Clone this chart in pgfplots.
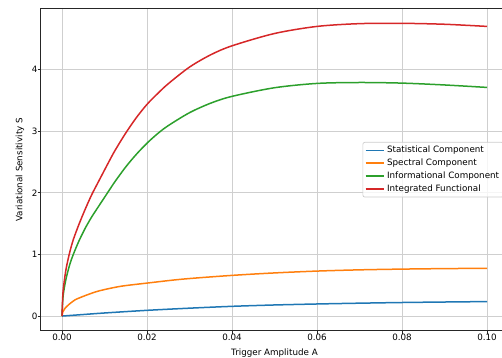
\documentclass[border=0pt]{standalone}
\usepackage{pgfplots}
\pgfplotsset{compat=1.18}
\usepackage{fontspec}
\setmainfont{DejaVu Sans}
\definecolor{cblue}{HTML}{1F77B4}
\definecolor{corange}{HTML}{FF7F0E}
\definecolor{cgreen}{HTML}{2CA02C}
\definecolor{cred}{HTML}{D62728}
\definecolor{gridc}{HTML}{CFCFCF}
\definecolor{legc}{HTML}{CCCCCC}
\newcommand{\fs}{\fontsize{8.75bp}{10.5bp}\selectfont}
\begin{document}
\begin{tikzpicture}
\useasboundingbox (0,0) rectangle (502bp,358bp);
\begin{axis}[
  at={(40.75bp,27.3bp)}, anchor=south west,
  scale only axis, width=467.5bp, height=322bp,
  xmin=-0.005, xmax=0.105, ymin=-0.2375, ymax=4.9875,
  scaled x ticks=false, scaled y ticks=false,
  xtick={0,0.02,0.04,0.06,0.08,0.1},
  xticklabels={0.00,0.02,0.04,0.06,0.08,0.10},
  ytick={0,1,2,3,4},
  yticklabels={0,1,2,3,4},
  tick align=outside, tick pos=left,
  major tick length=3.06bp,
  tick style={black!85, line width=0.7bp},
  axis line style={black!85, line width=0.7bp},
  grid=major,
  major grid style={gridc, line width=0.9bp},
  xticklabel style={font=\fs, inner sep=0pt, anchor=north},
  yticklabel style={font=\fs, inner sep=0pt, anchor=east},
  xlabel={Trigger Amplitude A},
  ylabel={Variational Sensitivity S},
  every axis x label/.style={at={(axis description cs:0.5,-0.0683)}, anchor=center, font=\fs},
  every axis y label/.style={at={(axis description cs:-0.0444,0.5)}, rotate=90, anchor=center, font=\fs},
  legend cell align=left,
  legend style={at={(1,0.5)}, xshift=-4.4bp, anchor=east, draw=legc, line width=0.7bp,
    rounded corners=2bp, fill=white, fill opacity=0.8, text opacity=1, draw opacity=1,
    font=\fs, inner xsep=2bp, inner ysep=1.5bp, nodes={inner xsep=2.4bp, inner ysep=2.4bp},
    /tikz/every even column/.append style={column sep=2bp}},
  legend image code/.code={\draw[#1, line width=1.5bp, draw opacity=1] (0bp,0bp) -- (18.3bp,0bp);},
]
\addplot[cblue, line width=1.5bp, smooth] table {
0 0
0.005 0.025
0.01 0.05
0.02 0.093
0.03 0.128
0.04 0.158
0.05 0.18
0.06 0.196
0.07 0.209
0.08 0.22
0.09 0.228
0.1 0.235
};
\addlegendentry{Statistical Component}
\addplot[corange, line width=1.5bp, smooth] table {
0 0
0.0002 0.067
0.0007 0.125
0.0015 0.18
0.003 0.26
0.005 0.32
0.0078 0.39
0.01 0.43
0.014 0.485
0.02 0.535
0.0285 0.60
0.04 0.66
0.05 0.70
0.06 0.73
0.07 0.75
0.08 0.762
0.09 0.77
0.1 0.775
};
\addlegendentry{Spectral Component}
\addplot[cgreen, line width=1.5bp, smooth] table {
0 0
0.0002 0.28
0.0005 0.44
0.001 0.62
0.0018 0.83
0.00266 1.0
0.004 1.22
0.0055 1.43
0.007 1.61
0.0088 1.80
0.011 2.03
0.0125 2.185
0.015 2.42
0.0175 2.625
0.02 2.805
0.0225 2.96
0.025 3.09
0.03 3.30
0.035 3.455
0.04 3.565
0.05 3.705
0.06 3.775
0.07 3.79
0.08 3.78
0.09 3.75
0.1 3.71
};
\addlegendentry{Informational Component}
\addplot[cred, line width=1.5bp, smooth] table {
0 0
0.0002 0.35
0.0005 0.55
0.001 0.78
0.0018 1.03
0.00266 1.24
0.004 1.49
0.0055 1.74
0.007 1.97
0.0088 2.21
0.011 2.50
0.0125 2.69
0.015 2.97
0.0175 3.22
0.02 3.435
0.0225 3.61
0.025 3.77
0.03 4.04
0.035 4.24
0.04 4.385
0.05 4.585
0.06 4.70
0.07 4.745
0.08 4.75
0.09 4.735
0.1 4.70
};
\addlegendentry{Integrated Functional}
\end{axis}
\end{tikzpicture}
\end{document}
